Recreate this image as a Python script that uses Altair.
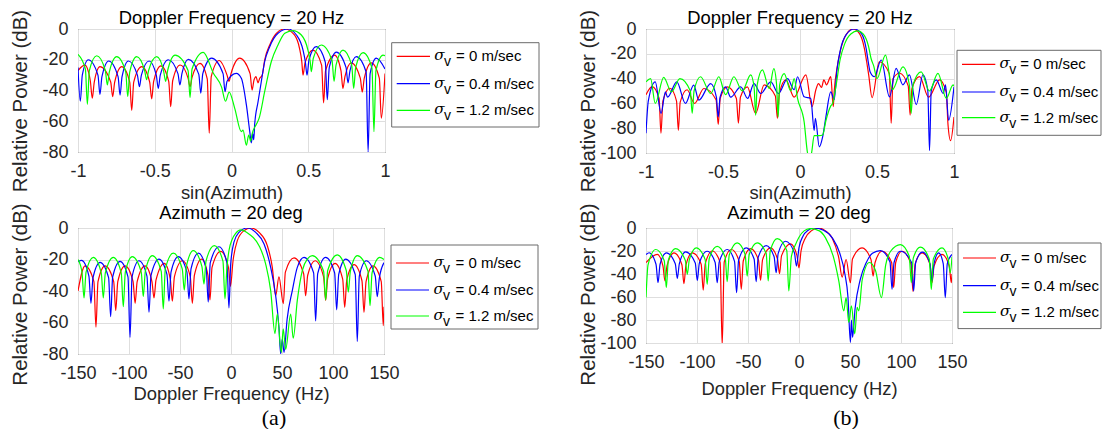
import altair as alt
import pandas as pd

# ---------------- data ----------------
SIGMA_VALUES = ["0", "0.4", "1.2"]
COLORS = ["#ff0000", "#0000ff", "#00ff00"]

# (a) top: sin(Azimuth) vs dB
A1_RED = [(-1.0,-27),(-0.955,-23.5),(-0.92,-33.5),(-0.907,-45),(-0.894,-34.5),(-0.857,-24.5),(-0.787,-34.5),(-0.774,-44),(-0.761,-34.5),(-0.715,-24.5),(-0.663,-34.5),(-0.65,-53),(-0.637,-34.5),(-0.585,-24.5),(-0.533,-34.5),(-0.52,-45.5),(-0.507,-34),(-0.46,-24),(-0.409,-34),(-0.396,-50.5),(-0.383,-33.5),(-0.335,-23.4),(-0.283,-32),(-0.27,-37.5),(-0.257,-31.5),(-0.205,-22.3),(-0.158,-32.5),(-0.145,-67.8),(-0.132,-31),(-0.08,-20.5),(-0.029,-30),(-0.016,-34),(-0.003,-29),(0.053,-19),(0.121,-29),(0.134,-39.7),(0.147,-33),(0.16,-31),(0.172,-35),(0.184,-32),(0.2,-30),(0.216,-20.2),(0.249,-10.4),(0.292,-2.8),(0.347,0),(0.41,-3.9),(0.443,-12.6),(0.458,-21.3),(0.466,-30),(0.479,-22),(0.531,-13.7),(0.587,-23.5),(0.6,-48),(0.613,-27),(0.672,-17),(0.713,-27),(0.726,-38.6),(0.739,-31),(0.78,-22),(0.839,-32),(0.852,-41),(0.865,-32),(0.911,-22),(0.963,-32),(0.976,-58),(1.0,-29)]
A1_BLUE = [(-1.0,-25),(-0.985,-47),(-0.972,-30),(-0.933,-20),(-0.87,-30),(-0.857,-42.5),(-0.844,-31),(-0.8,-20.8),(-0.739,-31),(-0.726,-43),(-0.713,-31),(-0.672,-20.8),(-0.613,-30),(-0.6,-37.5),(-0.587,-30),(-0.537,-20.8),(-0.49,-30),(-0.477,-38.6),(-0.464,-30),(-0.412,-20),(-0.349,-29),(-0.336,-36.4),(-0.323,-29),(-0.281,-19.7),(-0.213,-29.5),(-0.2,-41.8),(-0.187,-29),(-0.13,-19),(-0.055,-29),(-0.042,-40.8),(-0.029,-34),(0.031,-28.8),(0.064,-32),(0.097,-49.4),(0.119,-66.8),(0.129,-74),(0.138,-68),(0.145,-72),(0.151,-62),(0.173,-47.3),(0.194,-34.3),(0.216,-21.3),(0.249,-11.5),(0.303,-2.8),(0.368,0),(0.423,-3.9),(0.466,-13.7),(0.481,-21.3),(0.492,-30),(0.505,-20),(0.552,-11.5),(0.611,-21.5),(0.624,-46),(0.637,-25),(0.683,-15),(0.746,-25),(0.759,-35),(0.772,-27),(0.813,-18),(0.877,-28),(0.89,-80),(0.903,-29),(0.943,-19),(1.0,-26)]
A1_GREEN = [(-1.0,-16.5),(-0.952,-26),(-0.939,-49),(-0.926,-27),(-0.878,-17.4),(-0.822,-27),(-0.809,-36.4),(-0.796,-28),(-0.748,-18),(-0.689,-28),(-0.676,-44),(-0.663,-28),(-0.618,-18),(-0.566,-27),(-0.553,-33),(-0.54,-27),(-0.487,-18),(-0.442,-27.5),(-0.429,-34),(-0.416,-27),(-0.368,-17),(-0.283,-27),(-0.27,-44.7),(-0.257,-26),(-0.184,-15.2),(-0.117,-29),(-0.064,-38),(-0.039,-47),(-0.015,-41),(0.021,-51.6),(0.064,-66.8),(0.075,-65.7),(0.097,-75.5),(0.112,-69),(0.125,-73),(0.135,-68),(0.162,-62),(0.18,-58),(0.216,-40.8),(0.259,-21.3),(0.303,-10.4),(0.347,-2.8),(0.4,-1),(0.455,-3.9),(0.498,-13.7),(0.513,-21.3),(0.52,-27.8),(0.533,-19),(0.585,-10.4),(0.655,-20.5),(0.668,-34),(0.681,-23.5),(0.726,-13.7),(0.783,-23.5),(0.796,-38.6),(0.809,-25),(0.857,-15.4),(0.915,-25.5),(0.928,-66.8),(0.941,-27),(0.987,-17),(1.0,-17.3)]

# (a) bottom: Doppler frequency (Hz) vs dB
A2_RED = [(-150,-40),(-143.1,-24),(-134.4,-34),(-132.4,-63),(-130.4,-34),(-123.5,-24),(-115,-34),(-113,-52.5),(-111,-34),(-103.9,-24),(-96,-34),(-94,-47.8),(-92,-34),(-84.3,-24),(-77.5,-34),(-75.5,-44.4),(-73.5,-33),(-65.4,-22.4),(-59.5,-32.5),(-57.5,-46.5),(-55.5,-31),(-47.7,-20.8),(-39.9,-31),(-37.9,-47.8),(-35.9,-30),(-28.8,-19.7),(-22.6,-30),(-20.6,-45.7),(-18.6,-25),(-10.1,-14.8),(-2.5,-25),(-0.5,-37),(2,-20.8),(6.2,-8),(12.7,-1.7),(19.3,0),(27.5,-2.8),(35.6,-11.2),(40.5,-25),(43.8,-43),(47,-31),(51.3,-48),(53.3,-28),(61.8,-19),(71.2,-29),(73.2,-43),(75.2,-30),(82.4,-20.8),(90.8,-31),(92.8,-46),(94.8,-32),(102,-22.4),(109.5,-32.5),(111.5,-50.4),(113.5,-33),(120.6,-23.3),(128.4,-33.5),(130.4,-53.5),(132.4,-34),(139.2,-24),(147.3,-34),(149.3,-62),(150,-50)]
A2_BLUE = [(-150,-21.5),(-146.5,-20.5),(-139.3,-30.5),(-137.3,-47.8),(-135.3,-31.5),(-128.4,-21.8),(-120,-31.5),(-118,-56.3),(-116,-31),(-108.8,-21.2),(-101,-31),(-99,-69.4),(-97,-31),(-90.2,-20.8),(-82.4,-30.5),(-80.4,-53.5),(-78.4,-30),(-70.6,-19.7),(-62.8,-29.5),(-60.8,-46.5),(-58.8,-28),(-51.7,-18.2),(-43.2,-28),(-41.2,-45),(-39.2,-26),(-32,-16),(-24.3,-26),(-22.3,-47),(-20.3,-22),(-11.8,-11.9),(-4,-22),(-2,-50.8),(-0.3,-22.9),(2.9,-9),(7.8,-2.8),(16,0),(24.2,-2.8),(32.4,-10.2),(38.9,-25),(43.8,-43),(47,-63),(48.7,-80),(50.3,-70.5),(52,-79),(55,-58),(60.1,-39.8),(65,-25),(71.6,-18.6),(81,-28.5),(83,-59),(85,-29),(92.8,-18.6),(101.6,-28.5),(103.6,-52),(105.6,-29.5),(112.4,-19.7),(121.8,-29.5),(123.8,-72),(125.8,-30.5),(132.6,-20.8),(141.4,-30.5),(143.4,-43.6),(145.4,-32),(150,-22)]
A2_GREEN = [(-150,-20),(-146.1,-28),(-144.1,-44.4),(-142.1,-28),(-135,-18.6),(-127.2,-28.5),(-125.2,-44.4),(-123.2,-28.5),(-115.4,-18.6),(-107.6,-28.5),(-105.6,-50),(-103.6,-28),(-96.8,-18.2),(-88,-28),(-86,-43.6),(-84,-27.5),(-77.2,-17.6),(-68.4,-27.5),(-66.4,-51.4),(-64.4,-26),(-56.6,-16),(-47.8,-26),(-45.8,-39.4),(-43.8,-24.5),(-37,-14.4),(-28.5,-24.5),(-26.5,-35.6),(-24.5,-21),(-16.4,-11.2),(-7.9,-21),(-5.9,-45),(-4,-25),(-2,-14.4),(1.3,-7),(4.6,-3.4),(9.5,-1.2),(17.6,-3.8),(27.5,-11.2),(34,-22.9),(38.9,-39.8),(43.1,-67),(45.4,-54.6),(49.3,-79),(51.2,-64),(53.6,-77),(58.5,-54.6),(61,-70),(65,-46),(69.9,-27),(74.8,-19.7),(79.7,-17.6),(90.8,-27.5),(92.8,-45.7),(94.8,-27),(104.2,-17),(113,-27),(115,-40.8),(117,-27.5),(123.8,-17.6),(134.3,-27.5),(136.3,-49.3),(138.3,-28.5),(145.8,-18.6),(150,-20)]

# (b) top
B1_RED = [(-1.0,-53),(-0.96,-46.5),(-0.915,-56),(-0.903,-84),(-0.89,-58),(-0.845,-47.8),(-0.802,-58),(-0.79,-81.7),(-0.778,-59),(-0.733,-49),(-0.685,-60),(-0.624,-48),(-0.545,-57),(-0.531,-77),(-0.518,-56),(-0.472,-46.6),(-0.413,-56),(-0.4,-76),(-0.387,-55),(-0.342,-46.6),(-0.288,-68),(-0.233,-45),(-0.16,-54),(-0.147,-72),(-0.134,-52),(-0.092,-41),(-0.038,-55),(0.038,-37),(0.078,-62.6),(0.103,-49),(0.12,-44),(0.14,-47),(0.155,-41),(0.172,-45),(0.2,-38.4),(0.216,-62.6),(0.222,-50.5),(0.244,-29),(0.266,-15.6),(0.298,-4.8),(0.342,0),(0.385,-3.5),(0.418,-15.6),(0.433,-26.4),(0.446,-37),(0.468,-55.4),(0.515,-26.4),(0.58,-36),(0.592,-76),(0.604,-40),(0.646,-35.7),(0.703,-46),(0.715,-69.4),(0.727,-48),(0.776,-38.4),(0.835,-55),(0.906,-41),(0.95,-51),(0.961,-77),(0.978,-90),(1.0,-71)]
B1_BLUE = [(-1.0,-84),(-0.985,-58),(-0.94,-42.6),(-0.902,-68),(-0.874,-50.7),(-0.86,-55),(-0.8,-42.6),(-0.744,-60),(-0.69,-45.3),(-0.657,-57.4),(-0.58,-44),(-0.543,-55),(-0.531,-70.9),(-0.519,-55),(-0.483,-46.6),(-0.45,-55),(-0.385,-46.6),(-0.34,-56),(-0.299,-44),(-0.255,-52),(-0.19,-42.6),(-0.14,-52),(-0.081,-40),(-0.038,-49),(-0.016,-38.5),(0.027,-54.7),(0.07,-56),(0.092,-81.7),(0.1,-72),(0.125,-95),(0.147,-87),(0.168,-71),(0.2,-50.7),(0.222,-57),(0.24,-33),(0.262,-17),(0.3,-4.5),(0.353,0),(0.4,-4),(0.43,-16),(0.445,-28),(0.455,-34.5),(0.483,-38.5),(0.527,-25),(0.581,-54.7),(0.624,-31.8),(0.668,-45),(0.711,-37),(0.755,-61),(0.798,-37),(0.83,-50),(0.841,-98),(0.852,-50),(0.885,-41),(0.93,-52),(0.945,-45),(0.965,-73.6),(1.0,-46.6)]
B1_GREEN = [(-1.0,-42.6),(-0.97,-40),(-0.94,-60),(-0.885,-39),(-0.835,-50.7),(-0.78,-40),(-0.712,-50),(-0.7,-68),(-0.688,-50),(-0.646,-38.5),(-0.58,-52),(-0.527,-38.5),(-0.483,-53),(-0.429,-38.5),(-0.375,-50),(-0.32,-37),(-0.298,-47),(-0.288,-69.5),(-0.278,-45),(-0.244,-33),(-0.2,-48),(-0.17,-32),(-0.152,-45),(-0.142,-71),(-0.132,-45),(-0.103,-36),(-0.06,-50),(-0.038,-40),(-0.016,-56),(0.027,-75),(0.049,-100),(0.06,-104),(0.075,-100),(0.092,-86),(0.125,-86),(0.147,-85.5),(0.168,-74),(0.2,-62),(0.212,-60),(0.235,-45),(0.26,-25),(0.29,-12),(0.33,-4),(0.375,-1.5),(0.41,-4),(0.445,-14),(0.461,-23.6),(0.479,-30),(0.5,-40),(0.555,-21),(0.6,-49),(0.668,-30.5),(0.71,-45),(0.722,-68),(0.734,-45),(0.787,-34.5),(0.84,-50),(0.896,-35.8),(0.95,-56),(0.994,-45),(1.0,-46)]

# (b) bottom
B2_RED = [(-150,-30),(-138.9,-23),(-133.4,-33),(-131.4,-46),(-129.4,-33),(-122.6,-21.6),(-114.8,-32),(-112.8,-48.4),(-110.8,-32),(-104.6,-21.6),(-95.9,-31.5),(-93.9,-54),(-91.9,-31),(-85,-20),(-77.3,-30),(-75.3,-102),(-73.3,-29.5),(-66.4,-18.7),(-58.6,-29),(-56.6,-53.3),(-54.6,-28.5),(-47.5,-18),(-39.7,-28),(-37.7,-45.5),(-35.7,-27.5),(-27.9,-17.3),(-21.1,-27),(-19.1,-39.8),(-17.1,-24),(-8.3,-13.8),(-2,-24),(0,-34.6),(2,-20),(6.3,-8.6),(12,-2.5),(19.4,0),(26,-2.5),(32.5,-8.6),(39,-26),(42.3,-42.7),(46.2,-27.4),(50.4,-47.6),(52.4,-27),(61.8,-17.3),(70.6,-27.5),(72.6,-41.8),(74.6,-30),(81.4,-20.2),(90.8,-30),(92.8,-51.9),(94.8,-30),(101,-20.2),(109.8,-31.5),(111.8,-55.3),(113.8,-31.5),(120.6,-21.6),(128.4,-31.5),(130.4,-47.6),(132.4,-33),(140.2,-23),(147.3,-33),(149.3,-47.6),(150,-40)]
B2_BLUE = [(-150,-23),(-147,-21.5),(-140.2,-31.5),(-138.2,-47.6),(-136.2,-31.5),(-130,-21.6),(-121.3,-31),(-119.3,-43.8),(-117.3,-31),(-111.2,-20.7),(-101.7,-30.5),(-99.7,-45.5),(-97.7,-30.5),(-90,-20.2),(-82.2,-30),(-80.2,-47.6),(-78.2,-29.5),(-70.4,-18.7),(-63.2,-29),(-61.2,-56.2),(-59.2,-28),(-51.8,-17.3),(-44,-27),(-42,-46.7),(-40,-25.5),(-32.2,-15.3),(-24.4,-25),(-22.4,-38.9),(-20.4,-22),(-13.2,-11.5),(-4.5,-21.5),(-2.5,-33.1),(0,-17),(4,-7),(9,-2),(14.5,0),(24,-2),(33,-9),(40,-22),(45,-40),(48,-60),(50.4,-99.4),(51.5,-80),(52.5,-95),(55,-70),(60,-45),(66,-30),(72,-22),(79.8,-19.6),(89.2,-29.5),(91.2,-53.3),(93.2,-30),(99.4,-20.2),(110.4,-30),(112.4,-54.8),(114.4,-30),(121,-21),(128.4,-31),(130.4,-46),(132.4,-31),(136.9,-21.6),(141.4,-31),(143.4,-60.5),(145.4,-31),(150,-23)]
B2_GREEN = [(-150,-60.5),(-148,-32),(-140.5,-18.7),(-132.1,-28.5),(-130.1,-51.9),(-128.1,-28),(-121,-17.9),(-111.5,-28),(-109.5,-40.3),(-107.5,-27.5),(-100.7,-17.3),(-92,-27.5),(-90,-49),(-88,-26.5),(-80.2,-15.9),(-72.4,-25.5),(-70.4,-46.7),(-68.4,-23.5),(-60.6,-13),(-52.8,-23),(-50.8,-41.8),(-48.8,-23),(-41,-13),(-32.2,-22),(-30.2,-46),(-28.2,-20),(-21.4,-9.2),(-12,-19.5),(-10,-54.8),(-7.5,-25),(-3.4,-14.4),(0,-8),(5,-2.5),(11.2,-0.5),(20,-2.5),(26,-8.6),(34,-26),(39,-46),(43.9,-72),(46.2,-60.5),(48.8,-82),(51.4,-67.7),(54.7,-92),(57,-69),(58.6,-72),(62,-45),(69,-30),(75,-37),(80.8,-60.5),(85,-32),(90,-20),(99.4,-14.4),(108.1,-24.5),(110.1,-47.6),(112.1,-26),(119,-16.7),(127.7,-27),(129.7,-53.3),(131.7,-27),(140.2,-17.3),(146.3,-27),(148.3,-39),(150,-25)]

SIN_TICKS = [-1, -0.5, 0, 0.5, 1]
HZ_TICKS = [-150, -100, -50, 0, 50, 100, 150]
DB_TICKS_80 = [-80, -60, -40, -20, 0]
DB_TICKS_100 = [-100, -80, -60, -40, -20, 0]

# ---------------- styling ----------------
FONT = "Liberation Sans"
AXC = "#262626"
GRID = "#dedede"
ONE = pd.DataFrame({"k": [0]})


def x_axis(ticks, title, title_y):
    return alt.Axis(values=ticks, labelExpr="'' + datum.value", title=title,
                    grid=True, gridColor=GRID, gridWidth=1, domain=False,
                    ticks=False, tickSize=0, labelFont=FONT, labelFontSize=18,
                    labelColor=AXC, labelPadding=10, labelFlush=False,
                    labelOverlap=False, titleFont=FONT, titleFontSize=18.4,
                    titleFontWeight="normal", titleColor=AXC, titleY=title_y,
                    titleBaseline="alphabetic", titleAlign="center")


def y_axis(ticks, title_y):
    return alt.Axis(values=ticks, labelExpr="'' + datum.value",
                    title="Relative Power (dB)", grid=True, gridColor=GRID,
                    gridWidth=1, domain=False, ticks=False, tickSize=0,
                    labelFont=FONT, labelFontSize=18, labelColor=AXC,
                    labelPadding=10, labelFlush=False, labelOverlap=False,
                    titleFont=FONT, titleFontSize=20.5, titleFontWeight="normal",
                    titleColor=AXC, titleX=-58, titleY=title_y, titleAngle=270,
                    titleAlign="center", titleBaseline="middle")


def legend_layers(leg):
    bx0, bx1, by0, by1 = leg["box"]
    out = [alt.Chart(ONE).mark_rect(fill="white", stroke="#6a6a6a", strokeWidth=1).encode(
        x=alt.value(bx0), x2=alt.value(bx1), y=alt.value(by0), y2=alt.value(by1))]
    l0, l1 = leg["line"]
    for ye, col, val in zip(leg["ys"], COLORS, SIGMA_VALUES):
        out.append(alt.Chart(ONE).mark_rule(color=col, strokeWidth=1.2).encode(
            x=alt.value(l0), x2=alt.value(l1), y=alt.value(ye)))
        out.append(alt.Chart(ONE).mark_text(text="σ", font="DejaVu Serif", fontStyle="italic",
                                            fontSize=15, align="left", baseline="middle",
                                            color="#000000").encode(
            x=alt.value(leg["sig"]), y=alt.value(ye - 1)))
        out.append(alt.Chart(ONE).mark_text(text="v", font=FONT, fontSize=14, align="left",
                                            baseline="middle", color="#000000").encode(
            x=alt.value(leg["v"]), y=alt.value(ye + 6)))
        out.append(alt.Chart(ONE).mark_text(text=f"= {val} m/sec", font=FONT, fontSize=15,
                                            align="left", baseline="middle",
                                            color="#000000").encode(
            x=alt.value(leg["eq"]), y=alt.value(ye)))
    return out


def panel(curves, title, title_gap, xdom, xticks, xtitle, xtitle_y, ydom, yticks,
          ytitle_y, w, h, leg, caption=None):
    xs = alt.Scale(domain=xdom, nice=False, zero=False)
    ys = alt.Scale(domain=ydom, nice=False, zero=False)
    layers = []
    for pts, col in zip(curves, COLORS):
        df = pd.DataFrame(pts, columns=["x", "y"])
        layers.append(alt.Chart(df).mark_line(color=col, strokeWidth=1.2,
                                              interpolate="monotone", clip=True).encode(
            x=alt.X("x:Q", scale=xs, axis=x_axis(xticks, xtitle, xtitle_y)),
            y=alt.Y("y:Q", scale=ys, axis=y_axis(yticks, ytitle_y))))
    layers += legend_layers(leg)
    # panel title
    layers.append(alt.Chart(ONE).mark_text(text=title, font=FONT, fontSize=18.4,
                                           align="center", baseline="alphabetic",
                                           color="#000000").encode(
        x=alt.value(w / 2), y=alt.value(-title_gap)))
    if caption is not None:
        text, cx, cy = caption
        layers.append(alt.Chart(ONE).mark_text(text=text, font="Liberation Serif", fontSize=22,
                                               align="center", baseline="alphabetic",
                                               color="#000000").encode(
            x=alt.value(cx), y=alt.value(cy)))
    return alt.layer(*layers).properties(width=w, height=h)


a_top = panel([A1_RED, A1_BLUE, A1_GREEN], "Doppler Frequency = 20 Hz", 5, [-1, 1], SIN_TICKS,
              "sin(Azimuth)", 46.8, [-80, 0], DB_TICKS_80, 71.5, 307, 123,
              dict(box=(313.7, 461, 13.7, 98), ys=(27.3, 54.7, 81.3), line=(318.7, 352),
                   sig=356.3, v=366, eq=378))
b_top = panel([B1_RED, B1_BLUE, B1_GREEN], "Doppler Frequency = 20 Hz", 5, [-1, 1], SIN_TICKS,
              "sin(Azimuth)", 45, [-100, 0], DB_TICKS_100, 71.5, 308, 124,
              dict(box=(311, 455, 21.3, 106.3), ys=(35.3, 63, 88.7), line=(316, 349.3),
                   sig=353.6, v=363.3, eq=374.3))
a_bot = panel([A2_RED, A2_BLUE, A2_GREEN], "Azimuth = 20 deg", 9.5, [-150, 150], HZ_TICKS,
              "Doppler Frequency (Hz)", 45, [-80, 0], DB_TICKS_80, 66, 306, 126,
              dict(box=(313, 460, 17, 101), ys=(35, 62, 88), line=(318, 351),
                   sig=355.5, v=365, eq=377.5), caption=("(a)", 196, 196.5))
b_bot = panel([B2_RED, B2_BLUE, B2_GREEN], "Azimuth = 20 deg", 9.5, [-150, 150], HZ_TICKS,
              "Doppler Frequency (Hz)", 51.8, [-100, 0], DB_TICKS_100, 66, 306, 115,
              dict(box=(312, 455, 15, 100.6), ys=(30, 57.6, 84.3), line=(317, 350),
                   sig=354, v=363.5, eq=375), caption=("(b)", 200, 196.5))

chart = alt.concat(a_top, b_top, a_bot, b_bot, columns=2,
                   spacing={"row": 75, "column": 261}, bounds="flush").resolve_scale(
    x="independent", y="independent").properties(
    padding={"left": 1, "top": 0, "right": 0, "bottom": 0}).configure_view(
    stroke=AXC, strokeWidth=1)

chart.save("out.html", embed_options={"renderer": "svg", "actions": False})
